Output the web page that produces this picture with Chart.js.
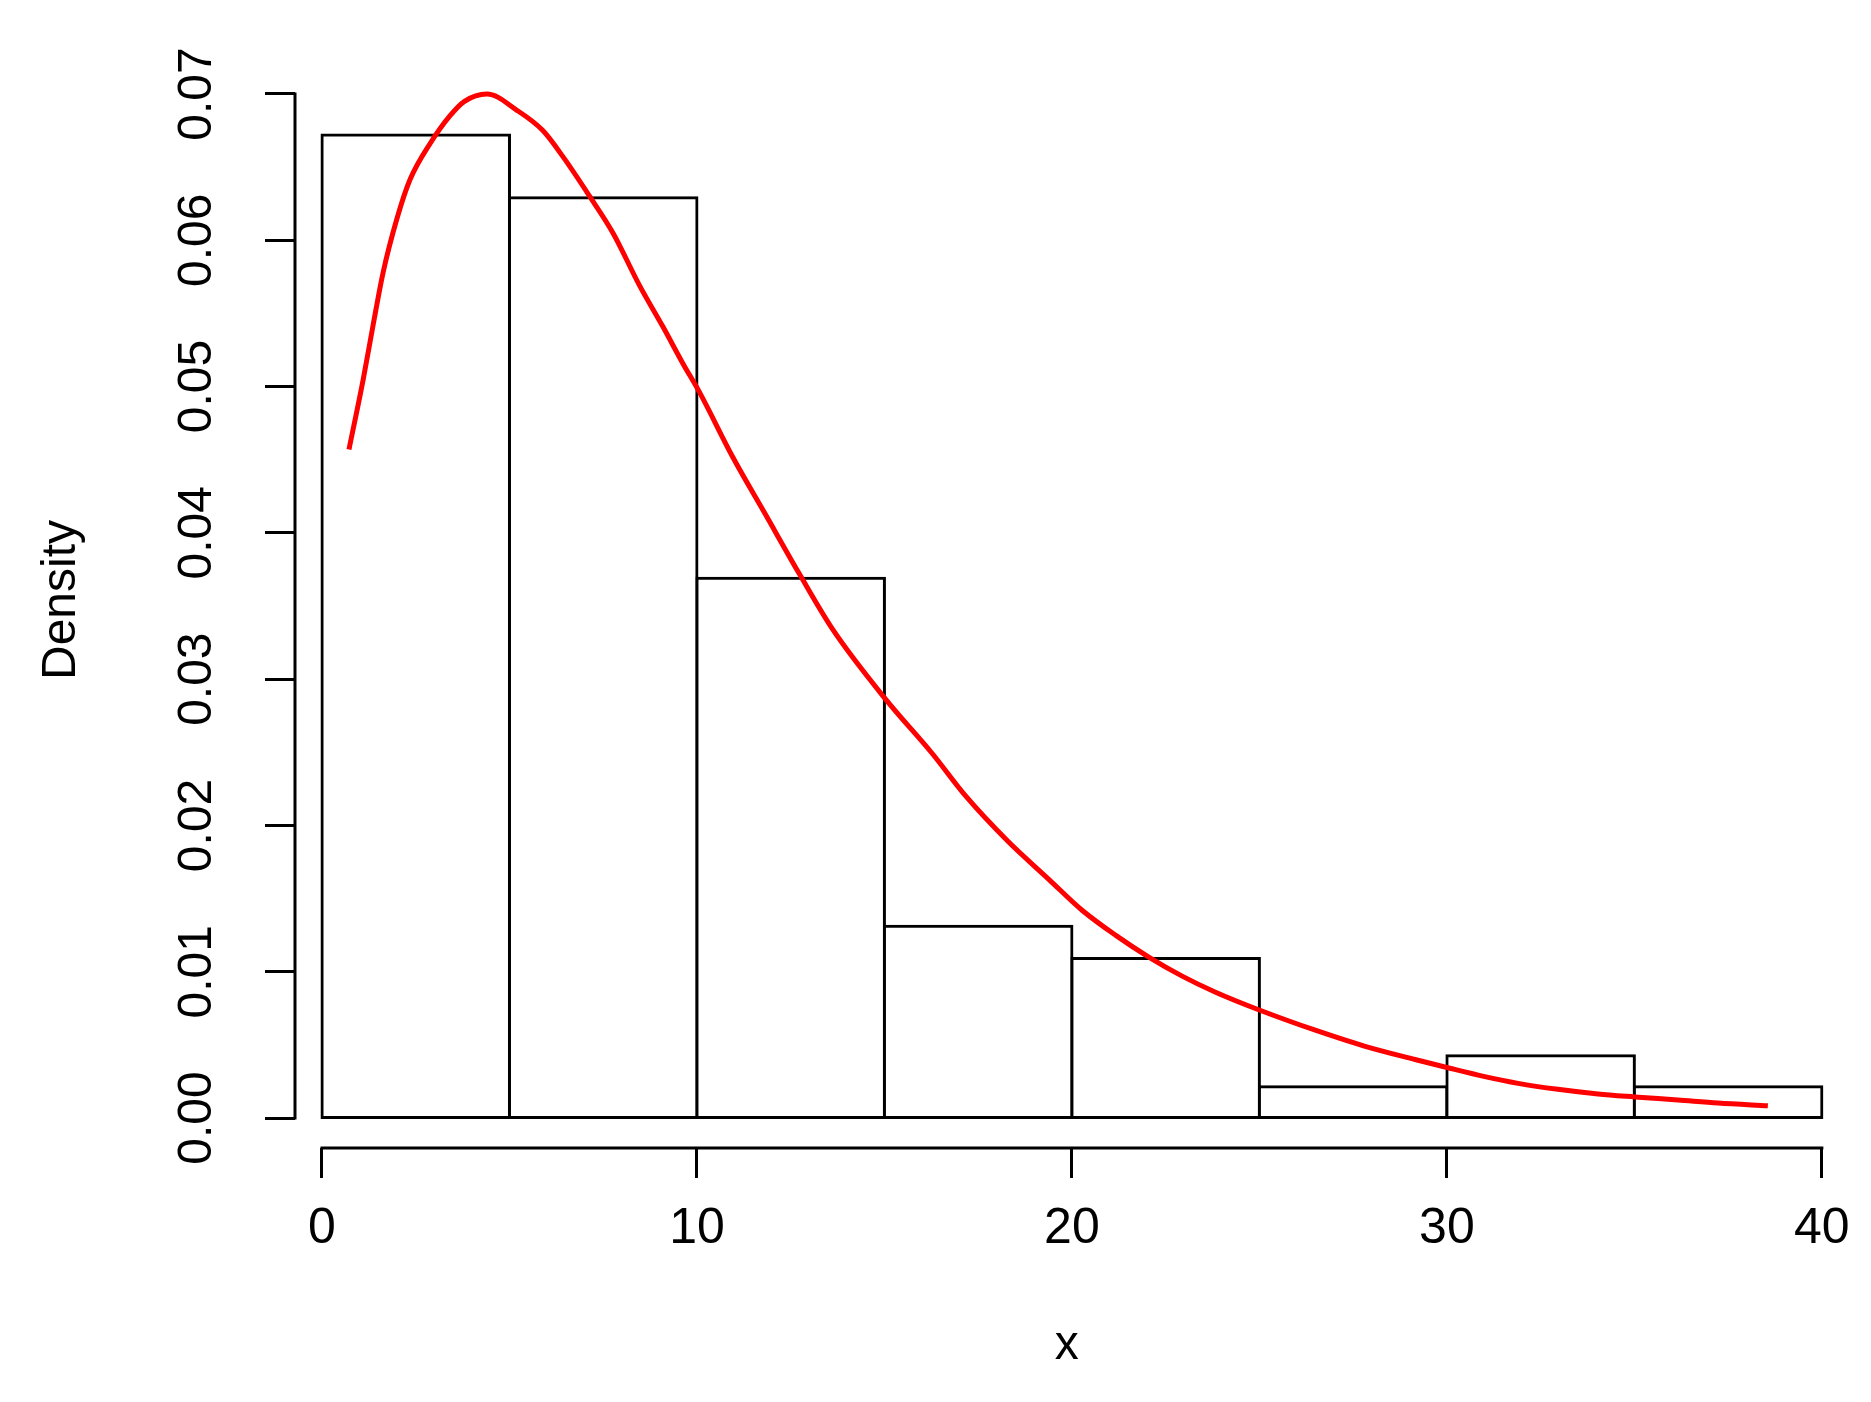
<!DOCTYPE html>
<html>
<head>
<meta charset="utf-8">
<script src="https://cdn.jsdelivr.net/npm/chart.js@4/dist/chart.umd.min.js"></script>
<style>
  html, body { margin: 0; padding: 0; background: #fff; }
  #wrap { width: 1871px; height: 1402px; }
</style>
</head>
<body>
<div id="wrap"><canvas id="myChart"></canvas></div>
<script>
// histogram bins (edges) and densities
var binEdges = [0, 5, 10, 15, 20, 25, 30, 35, 40];
var binDensity = [0.0672, 0.0629, 0.0369, 0.0131, 0.0109, 0.00214, 0.00426, 0.00214];

// fitted density curve
var curveX = [0.72, 1.10, 1.37, 1.63, 1.99, 2.34, 2.88, 3.41, 3.8, 4.4, 5.19, 5.89, 6.43, 7.14,
              7.76, 8.47, 9.09, 9.62, 10.07, 10.95, 11.84, 12.73, 13.62, 15.04, 16.28, 17.17, 18.3,
              19.39, 20.27, 21.16, 22.05, 22.94, 23.83, 24.98, 26.49, 27.82, 29.15, 30.08, 31.01,
              31.90, 32.96, 34.03, 35.01, 36.16, 37.23, 38.56];
var curveY = [0.0457, 0.0505, 0.0543, 0.0578, 0.0614, 0.0641, 0.0666, 0.0685, 0.0695, 0.0700,
              0.0689, 0.0675, 0.0657, 0.0630, 0.0605, 0.0569, 0.0541, 0.0516, 0.0496, 0.0452,
              0.0412, 0.0372, 0.0334, 0.0286, 0.0249, 0.0220, 0.0189, 0.0163, 0.0142, 0.0125,
              0.0110, 0.0097, 0.0086, 0.0074, 0.0060, 0.0049, 0.0040, 0.00340, 0.00283, 0.00237,
              0.00196, 0.00164, 0.00144, 0.00123, 0.00102, 0.00084];

var xTicks = [0, 10, 20, 30, 40];
var yTicks = [0, 0.01, 0.02, 0.03, 0.04, 0.05, 0.06, 0.07];

var barData = binDensity.map(function (d, i) {
    return { x: (binEdges[i] + binEdges[i + 1]) / 2, y: d };
});
var lineData = curveX.map(function (x, i) {
    return { x: x, y: curveY[i] };
});

var fontFamily = '"Liberation Sans", Arial, sans-serif';
var lw = 3;

// R style axis lines: only from first to last tick, detached from the plot
var rAxes = {
    id: 'rAxes',
    afterDraw: function (chart) {
        var c = chart.ctx, xs = chart.scales.x, ys = chart.scales.y, a = chart.chartArea;
        c.save();
        c.strokeStyle = '#000';
        c.lineWidth = lw;
        c.lineCap = 'square';
        c.beginPath();
        c.moveTo(a.left, ys.getPixelForValue(yTicks[0]));
        c.lineTo(a.left, ys.getPixelForValue(yTicks[yTicks.length - 1]));
        c.moveTo(xs.getPixelForValue(xTicks[0]), a.bottom);
        c.lineTo(xs.getPixelForValue(xTicks[xTicks.length - 1]), a.bottom);
        c.stroke();
        c.restore();
    }
};

var ctx = document.getElementById('myChart').getContext('2d');

var myChart = new Chart(ctx, {
    data: {
        datasets: [{
            type: 'line',
            data: lineData,
            borderColor: '#ff0000',
            borderWidth: 5,
            pointRadius: 0,
            cubicInterpolationMode: 'monotone',
            fill: false,
            order: 0
        }, {
            type: 'bar',
            data: barData,
            backgroundColor: '#ffffff',
            borderColor: '#000000',
            borderWidth: lw,
            borderSkipped: false,
            inflateAmount: lw / 2,
            barPercentage: 1,
            categoryPercentage: 1,
            order: 1
        }]
    },
    options: {
        responsive: true,
        maintainAspectRatio: false,
        animation: false,
        events: [],
        layout: { padding: { top: 52, right: 30, bottom: 0, left: 0 } },
        plugins: {
            legend: { display: false },
            tooltip: { enabled: false }
        },
        scales: {
            x: {
                type: 'linear',
                offset: false,
                min: -0.72,
                max: 40.45,
                afterBuildTicks: function (scale) {
                    scale.ticks = xTicks.map(function (v) { return { value: v }; });
                },
                afterFit: function (scale) { scale.height = 254; },
                border: { display: false },
                grid: {
                    offset: false,
                    drawOnChartArea: false,
                    drawTicks: true,
                    tickLength: 30,
                    tickWidth: lw,
                    tickColor: '#000'
                },
                ticks: {
                    padding: 21,
                    color: '#000',
                    font: { family: fontFamily, size: 50 },
                    maxRotation: 0,
                    callback: function (v) { return String(v); }
                },
                title: {
                    display: true,
                    text: 'x',
                    color: '#000',
                    font: { family: fontFamily, size: 48 },
                    padding: { top: 0, bottom: 27 }
                }
            },
            y: {
                type: 'linear',
                min: -0.00205,
                max: 0.07287,
                afterBuildTicks: function (scale) {
                    scale.ticks = yTicks.map(function (v) { return { value: v }; });
                },
                afterFit: function (scale) { scale.width = 295; },
                border: { display: false },
                grid: {
                    drawOnChartArea: false,
                    drawTicks: true,
                    tickLength: 30,
                    tickWidth: lw,
                    tickColor: '#000'
                },
                ticks: {
                    padding: 21,
                    color: '#000',
                    font: { family: fontFamily, size: 48 },
                    minRotation: 90,
                    maxRotation: 90,
                    crossAlign: 'center',
                    callback: function (v) { return v.toFixed(2); }
                },
                title: {
                    display: true,
                    text: 'Density',
                    color: '#000',
                    font: { family: fontFamily, size: 48 },
                    padding: { top: 33, bottom: 0 }
                }
            }
        }
    },
    plugins: [rAxes]
});
</script>
</body>
</html>
